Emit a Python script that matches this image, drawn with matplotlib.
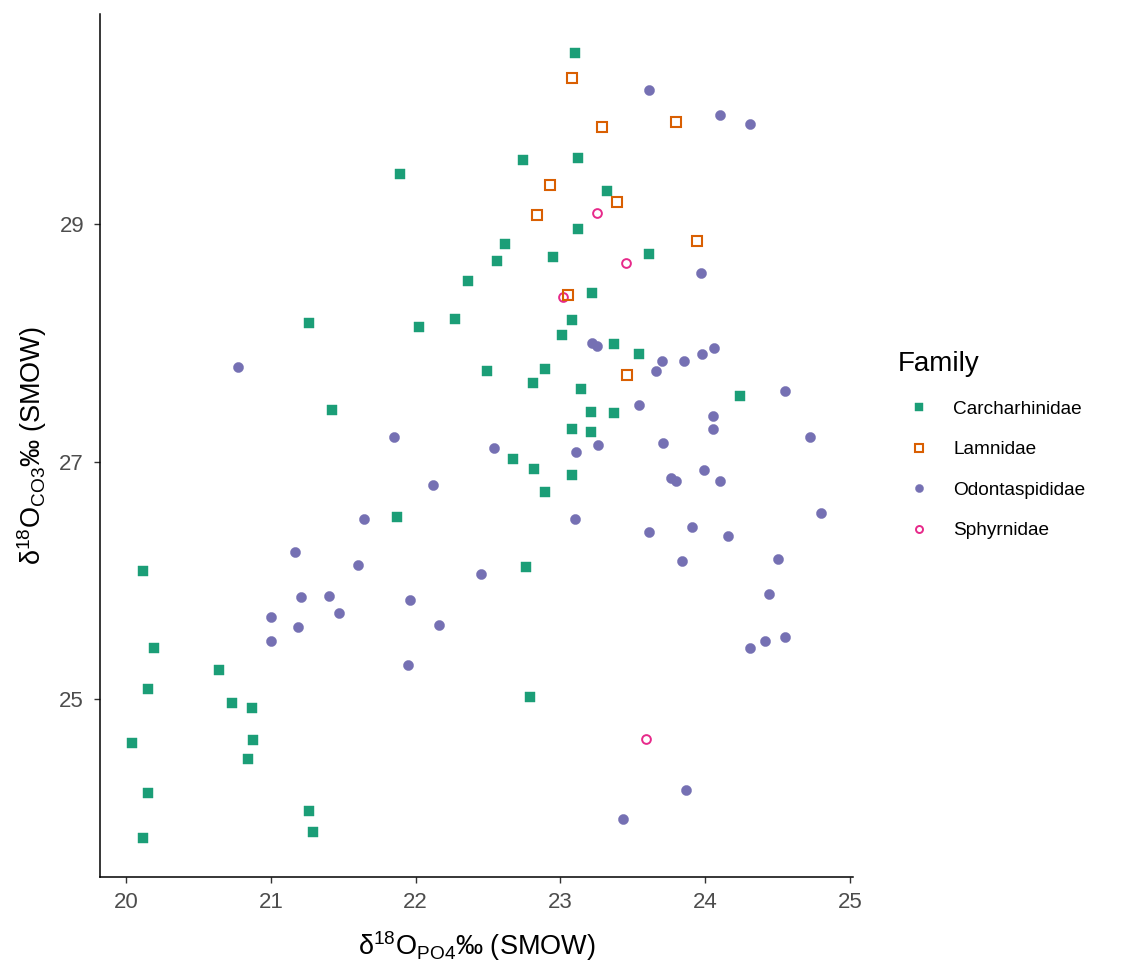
import matplotlib
matplotlib.use("Agg")
import matplotlib.pyplot as plt

plt.rcParams["font.family"] = ["Liberation Sans", "DejaVu Sans"]
plt.rcParams["mathtext.fontset"] = "custom"
plt.rcParams["mathtext.rm"] = "Liberation Sans"
plt.rcParams["mathtext.it"] = "Liberation Sans:italic"
plt.rcParams["mathtext.bf"] = "Liberation Sans:bold"

# values
carch_x = [23.10, 21.89, 22.74, 23.12, 23.32, 23.12, 22.62, 22.56, 22.95, 23.61,
           22.36, 23.22, 21.26, 22.27, 22.02, 23.08, 23.01, 23.37, 23.54, 22.49,
           22.89, 22.81, 23.14, 24.24, 21.42, 23.21, 23.37, 23.08, 23.21, 22.67,
           22.82, 23.08, 22.89, 21.87, 20.12, 22.76, 20.19, 20.64, 20.15, 22.79,
           20.73, 20.87, 20.88, 20.04, 20.84, 20.15, 21.26, 20.12, 21.29]
carch_y = [30.44, 29.42, 29.54, 29.56, 29.28, 28.96, 28.83, 28.69, 28.72, 28.75,
           28.52, 28.42, 28.17, 28.20, 28.13, 28.19, 28.07, 27.99, 27.91, 27.76,
           27.78, 27.66, 27.61, 27.55, 27.43, 27.42, 27.41, 27.27, 27.25, 27.02,
           26.94, 26.89, 26.74, 26.53, 26.08, 26.11, 25.43, 25.24, 25.08, 25.02,
           24.97, 24.92, 24.65, 24.63, 24.49, 24.21, 24.06, 23.83, 23.88]

lamn_x = [23.08, 23.29, 23.80, 22.93, 23.39, 22.84, 23.94, 23.05, 23.46]
lamn_y = [30.23, 29.82, 29.86, 29.33, 29.19, 29.08, 28.86, 28.40, 27.73]

odon_x = [23.61, 24.10, 24.31, 23.97, 23.22, 23.25, 23.70, 23.85, 23.98, 24.06,
          23.66, 24.55, 23.54, 24.05, 24.05, 20.77, 21.85, 24.72, 22.54, 23.11,
          23.26, 23.71, 22.12, 23.76, 23.80, 23.99, 24.10, 24.80, 21.64, 23.10,
          23.61, 23.91, 24.16, 21.17, 21.60, 22.45, 23.84, 24.50, 21.21, 21.40,
          21.96, 24.44, 21.00, 21.47, 21.19, 22.16, 21.00, 24.41, 24.55, 24.31,
          21.95, 23.87, 23.43]
odon_y = [30.13, 29.92, 29.84, 28.59, 28.00, 27.97, 27.85, 27.85, 27.91, 27.96,
          27.76, 27.59, 27.48, 27.38, 27.27, 27.80, 27.21, 27.21, 27.11, 27.08,
          27.14, 27.16, 26.80, 26.86, 26.84, 26.93, 26.84, 26.57, 26.52, 26.52,
          26.41, 26.45, 26.37, 26.24, 26.13, 26.05, 26.16, 26.18, 25.86, 25.87,
          25.83, 25.88, 25.69, 25.72, 25.61, 25.62, 25.49, 25.49, 25.52, 25.43,
          25.29, 24.23, 23.99]

sphy_x = [23.25, 23.45, 23.02, 23.59]
sphy_y = [29.09, 28.67, 28.39, 24.66]

x_ticks = [20, 21, 22, 23, 24, 25]
y_ticks = [25, 27, 29]

fig = plt.figure(figsize=(11.21, 9.65), dpi=100)
ax = fig.add_axes([100 / 1121, 88 / 965, 753 / 1121, 863 / 965])

ax.plot(carch_x, carch_y, ls="none", marker="s", ms=7.8, color="#1B9E77",
        mec="#1B9E77", mew=0.3, label="Carcharhinidae")
ax.plot(sphy_x, sphy_y, ls="none", marker="o", ms=6.3, mfc="none", mec="#E7298A",
        mew=1.4, label="Sphyrnidae")
ax.plot(odon_x, odon_y, ls="none", marker="o", ms=7.3, color="#7570B3",
        mec="#7570B3", mew=0.3, label="Odontaspididae")
ax.plot(lamn_x, lamn_y, ls="none", marker="s", ms=7.6, mfc="none", mec="#D95F02",
        mew=1.5, label="Lamnidae")

ax.set_xlim(19.82, 25.02)
ax.set_ylim(23.50, 30.77)
ax.set_xticks(x_ticks)
ax.set_yticks(y_ticks)

for side in ["top", "right"]:
    ax.spines[side].set_visible(False)
for side in ["left", "bottom"]:
    ax.spines[side].set_linewidth(1.1)
    ax.spines[side].set_color("black")
ax.tick_params(axis="both", direction="out", length=4.5, width=1.0, color="#333333",
               labelsize=16, labelcolor="#4D4D4D")
ax.tick_params(axis="x", pad=6)
ax.tick_params(axis="y", pad=7)

ax.set_xlabel(r"$\mathregular{\delta^{18}O_{PO4}}$‰ (SMOW)", fontsize=19.5)
ax.set_ylabel(r"$\mathregular{\delta^{18}O_{CO3}}$‰ (SMOW)", fontsize=19.5)
ax.xaxis.set_label_coords(0.5, -0.06)
ax.yaxis.set_label_coords(-0.068, 0.5)

handles, labels = ax.get_legend_handles_labels()
order = ["Carcharhinidae", "Lamnidae", "Odontaspididae", "Sphyrnidae"]
hmap = dict(zip(labels, handles))
leg = fig.legend([hmap[k] for k in order], order, loc="upper left",
                 bbox_to_anchor=(881 / 1121, 1 - 334 / 965), frameon=False,
                 title="Family", title_fontsize=20, fontsize=13.7,
                 markerscale=0.8, handlelength=2.2, handletextpad=0.7,
                 labelspacing=1.22, alignment="left")

fig.savefig("out.png", dpi=100)
